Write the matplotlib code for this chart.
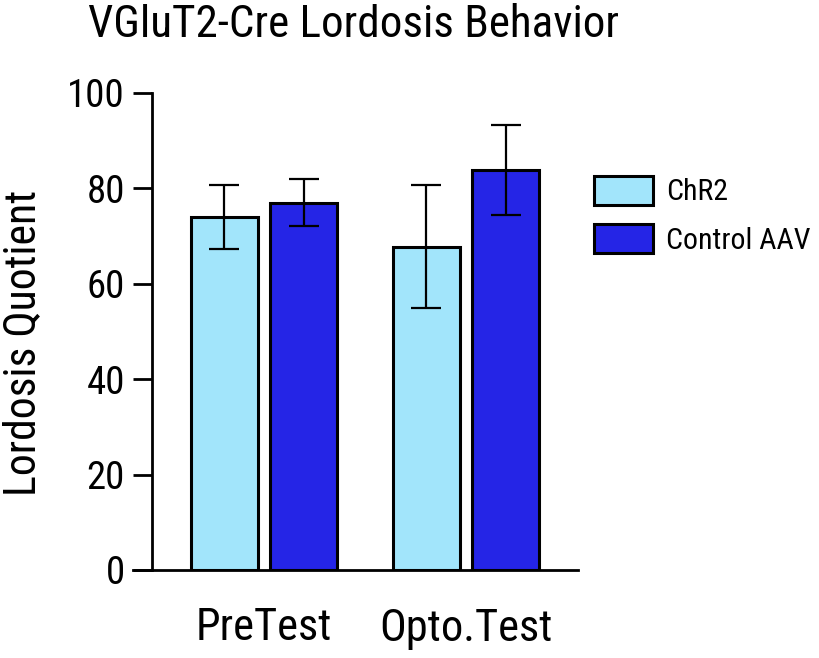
"""Grouped bar chart of lordosis quotient for VGluT2-Cre mice."""

import matplotlib

matplotlib.use("Agg")
import matplotlib.pyplot as plt
import numpy as np

conditions = ["PreTest", "Opto.Test"]
groups = ["ChR2", "Control AAV"]
means = {
    "ChR2": [74.0, 67.8],
    "Control AAV": [77.0, 83.8],
}
errors = {
    "ChR2": [6.8, 12.9],
    "Control AAV": [4.9, 9.4],
}
colors = {"ChR2": "#a2e5fb", "Control AAV": "#2525e6"}

plt.rcParams["font.family"] = ["Roboto Condensed", "Liberation Sans", "DejaVu Sans"]


def plot_bars() -> None:
    fig = plt.figure(figsize=(8.19, 6.58), dpi=100)
    ax = fig.add_axes([133 / 819, 1 - 570 / 658, 445 / 819, 477 / 658])

    x = np.arange(len(conditions))
    width = 0.33
    offsets = [-0.196, 0.196]

    for group, off in zip(groups, offsets):
        ax.bar(x + off, means[group], width, color=colors[group],
               edgecolor="black", linewidth=2.2, label=group, zorder=2)
        ax.errorbar(x + off, means[group], yerr=errors[group], fmt="none",
                    ecolor="black", elinewidth=1.6, capsize=11, capthick=1.6,
                    zorder=3)

    ax.set_xlim(-0.6485, 1.5545)
    ax.set_ylim(0, 100)
    ax.spines["top"].set_visible(False)
    ax.spines["right"].set_visible(False)
    ax.spines["left"].set_position(("data", -0.5545))
    ax.spines["left"].set_linewidth(2)
    ax.spines["bottom"].set_linewidth(2)

    ax.set_yticks([0, 20, 40, 60, 80, 100])
    ax.tick_params(axis="y", direction="out", length=13.5, width=2,
                   labelsize=28, pad=6)
    ax.set_xticks(x)
    ax.set_xticklabels(conditions)
    ax.tick_params(axis="x", length=0, labelsize=32, pad=27)

    fig.text(2 / 819, 1 - 343 / 658, "Lordosis Quotient", rotation=90,
             ha="left", va="center", fontsize=31.5)
    fig.text(88 / 819, 1 - 37 / 658, "VGluT2-Cre Lordosis Behavior",
             ha="left", va="baseline", fontsize=32.5)

    fig.legend(loc="upper left", bbox_to_anchor=(594 / 819, 1 - 176 / 658),
               frameon=False, fontsize=21.5, handlelength=1.97, handleheight=1.1,
               labelspacing=0.6, handletextpad=0.45, borderpad=0,
               borderaxespad=0)

    fig.savefig("out.png", dpi=100)


def main() -> None:
    plot_bars()


if __name__ == "__main__":
    main()
